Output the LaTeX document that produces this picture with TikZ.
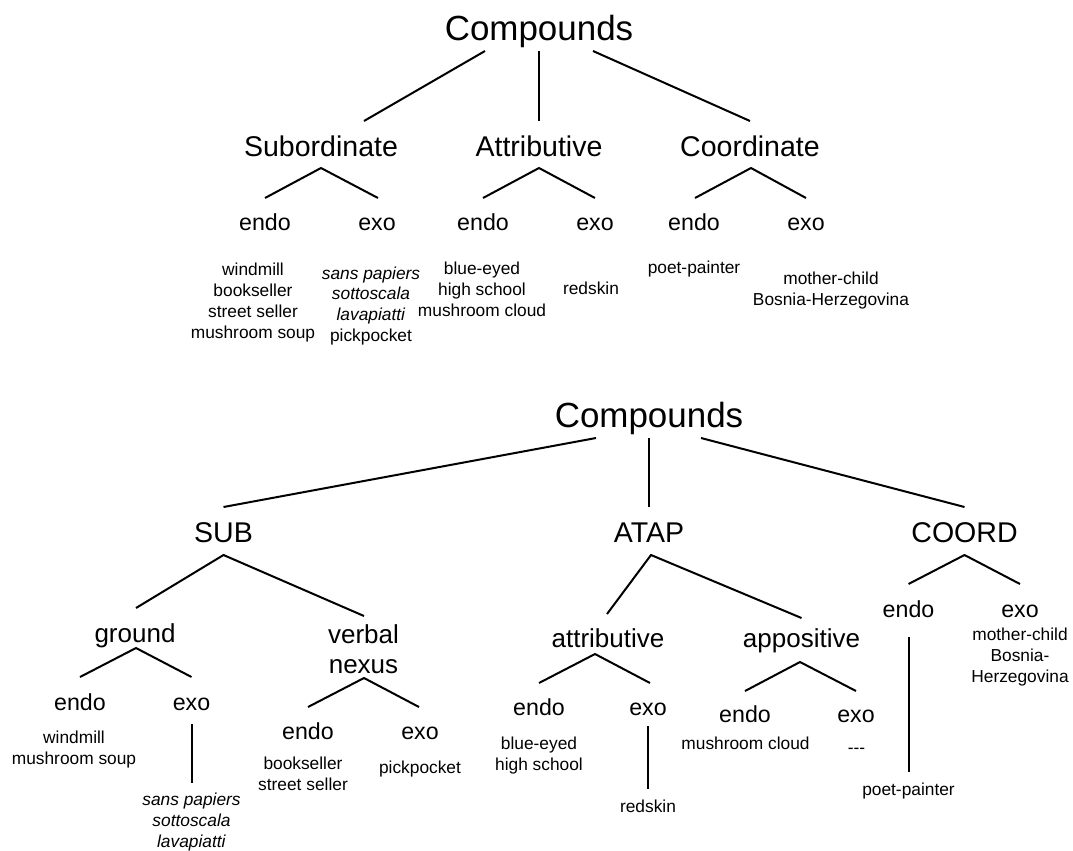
\documentclass[tikz,border=0pt]{standalone}
\usepackage{fontspec}
\setmainfont{Liberation Sans}
\newcommand\tripledash{-\kern0pt-\kern0pt-}
\begin{document}
% Multi-line labels are placed by the baseline of their last line.
\begin{tikzpicture}[x=0.75pt,y=-0.75pt,
  lbl/.style={inner sep=0pt, anchor=base},
  root/.style={lbl, font=\fontsize{26.2pt}{30pt}\selectfont},
  cat/.style={lbl, font=\fontsize{21.4pt}{25pt}\selectfont},
  subcat/.style={lbl, align=center, font=\fontsize{19.5pt}{22.5pt}\selectfont},
  head/.style={lbl, font=\fontsize{17.4pt}{20pt}\selectfont},
  ex/.style={lbl, align=center, font=\fontsize{13pt}{15.6pt}\selectfont},
  branch/.style={line width=1.5pt}]
\useasboundingbox (0,0) rectangle (1073,850);

% ---------- first classification ----------
\node[root] (cmpA) at (539,40) {Compounds};
\node[cat] (subA) at (321,156) {Subordinate};
\node[cat] (attA) at (539,156) {Attributive};
\node[cat] (coA)  at (750,156) {Coordinate};

\node[head] (subAen) at (265,230) {endo};
\node[head] (subAex) at (377,230) {exo};
\node[head] (attAen) at (483,230) {endo};
\node[head] (attAex) at (595,230) {exo};
\node[head] (coAen)  at (694,230) {endo};
\node[head] (coAex)  at (806,230) {exo};

\node[ex] (subAenX) at (253,338) {windmill\\bookseller\\street seller\\mushroom soup};
\node[ex] (subAexX) at (371,341.5) {\textit{sans papiers}\\\textit{sottoscala}\\\textit{lavapiatti}\\pickpocket};
\node[ex] (attAenX) at (482,316) {blue-eyed\\high school\\mushroom cloud};
\node[ex] (attAexX) at (591,294) {redskin};
\node[ex] (coAenX)  at (694,273) {poet-painter};
\node[ex] (coAexX)  at (831,305.5) {mother-child\\Bosnia-Herzegovina};

\draw[branch] ([shift={(-54,11)}]cmpA.base) -- ([shift={(43,-35)}]subA.base);
\draw[branch] ([shift={(0,11)}]cmpA.base) -- ([shift={(0,-35)}]attA.base);
\draw[branch] ([shift={(54,11)}]cmpA.base) -- ([shift={(0,-35)}]coA.base);

\draw[branch] ([shift={(0,-32)}]subAen.base) -- ([shift={(0,12)}]subA.base) -- ([shift={(1,-32)}]subAex.base);
\draw[branch] ([shift={(0,-32)}]attAen.base) -- ([shift={(0,12)}]attA.base) -- ([shift={(0,-32)}]attAex.base);
\draw[branch] ([shift={(1,-32)}]coAen.base) -- ([shift={(1,12)}]coA.base) -- ([shift={(0,-32)}]coAex.base);

% ---------- second classification ----------
\node[root] (cmpB) at (649,427) {Compounds};
\node[cat] (subB)  at (223.5,542) {SUB};
\node[cat] (atapB) at (649,542) {ATAP};
\node[cat] (coB)   at (964.5,542) {COORD};

\node[subcat] (grd) at (135,642) {ground};
\node[subcat] (vnx) at (363.5,673) {verbal\\nexus};
\node[subcat] (atr) at (608,647) {attributive};
\node[subcat] (app) at (801.5,647) {appositive};

\node[head] (coBen) at (908.5,617) {endo};
\node[head] (coBex) at (1020,617) {exo};
\node[head] (grdEn) at (80,710) {endo};
\node[head] (grdEx) at (191.5,710) {exo};
\node[head] (vnxEn) at (308,739) {endo};
\node[head] (vnxEx) at (420,739) {exo};
\node[head] (atrEn) at (539,715) {endo};
\node[head] (atrEx) at (648,715) {exo};
\node[head] (appEn) at (745,722) {endo};
\node[head] (appEx) at (856,722) {exo};

\node[ex] (grdEnX) at (74,764) {windmill\\mushroom soup};
\node[ex] (grdExX) at (191.5,847) {\textit{sans papiers}\\\textit{sottoscala}\\\textit{lavapiatti}};
\node[ex] (vnxEnX) at (303,790) {bookseller\\street seller};
\node[ex] (vnxExX) at (420,773) {pickpocket};
\node[ex] (atrEnX) at (539,770) {blue-eyed\\high school};
\node[ex] (atrExX) at (648,812) {redskin};
\node[ex] (appEnX) at (745.5,749) {mushroom cloud};
\node[ex] (appExX) at (856.5,753) {\tripledash};
\node[ex] (coBenX) at (908.5,795) {poet-painter};
\node[ex] (coBexX) at (1020,682) {mother-child\\Bosnia-\\Herzegovina};

\draw[branch] ([shift={(-53,11)}]cmpB.base) -- ([shift={(0,-35)}]subB.base);
\draw[branch] ([shift={(0,11)}]cmpB.base) -- ([shift={(0,-35)}]atapB.base);
\draw[branch] ([shift={(52,11)}]cmpB.base) -- ([shift={(0,-35)}]coB.base);

\draw[branch] ([shift={(1,-34)}]grd.base) -- ([shift={(0,13)}]subB.base) -- ([shift={(0.5,-57)}]vnx.base);
\draw[branch] ([shift={(-1,-33)}]atr.base) -- ([shift={(2,13)}]atapB.base) -- ([shift={(0,-29)}]app.base);
\draw[branch] ([shift={(0,-33)}]coBen.base) -- ([shift={(0,13)}]coB.base) -- ([shift={(0,-33)}]coBex.base);

\draw[branch] ([shift={(0,-33)}]grdEn.base) -- ([shift={(1,6)}]grd.base) -- ([shift={(0,-33)}]grdEx.base);
\draw[branch] ([shift={(0,-32)}]vnxEn.base) -- ([shift={(0.5,5)}]vnx.base) -- ([shift={(-1,-32)}]vnxEx.base);
\draw[branch] ([shift={(0,-32)}]atrEn.base) -- ([shift={(-13,7)}]atr.base) -- ([shift={(2,-32)}]atrEx.base);
\draw[branch] ([shift={(0,-31)}]appEn.base) -- ([shift={(-1.5,15)}]app.base) -- ([shift={(0,-31)}]appEx.base);

\draw[branch] ([shift={(0,14)}]grdEx.base) -- ([shift={(0,-64)}]grdExX.base);
\draw[branch] ([shift={(0,11)}]atrEx.base) -- ([shift={(0,-23)}]atrExX.base);
\draw[branch] ([shift={(0,20)}]coBen.base) -- ([shift={(0,-23)}]coBenX.base);
\end{tikzpicture}
\end{document}
